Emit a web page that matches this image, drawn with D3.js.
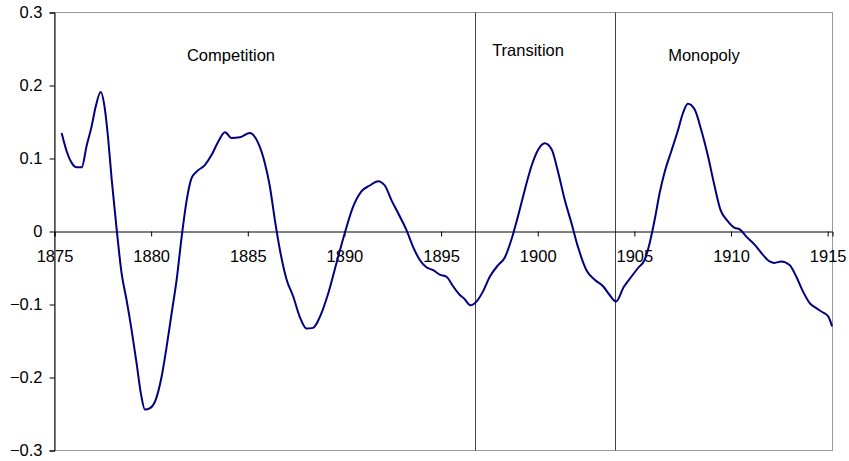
<!DOCTYPE html>
<html>
<head>
<meta charset="utf-8">
<script src="https://cdn.jsdelivr.net/npm/d3@7"></script>
<style>
  body { margin: 0; background: #fff; }
  text { font-family: "Liberation Sans", Arial, sans-serif; font-size: 16.5px; fill: #000; }
</style>
</head>
<body>
<svg></svg>
<script>
// series
const years = [1875.37, 1875.63, 1875.89, 1876.15, 1876.41, 1876.66, 1876.92, 1877.13, 1877.39, 1877.61,
  1877.78, 1877.96, 1878.22, 1878.47, 1878.73, 1878.99, 1879.25, 1879.47, 1879.68, 1879.94,
  1880.2, 1880.54, 1880.8, 1881.06, 1881.32, 1881.58, 1881.84, 1882.09, 1882.35, 1882.78,
  1883.13, 1883.47, 1883.82, 1884.16, 1884.59, 1885.11, 1885.54, 1885.88, 1886.14, 1886.4,
  1886.66, 1887.01, 1887.35, 1887.69, 1888.04, 1888.38, 1888.73, 1889.16, 1889.59, 1890.02,
  1890.45, 1890.88, 1891.31, 1891.74, 1892.09, 1892.43, 1892.78, 1893.21, 1893.55, 1893.9,
  1894.24, 1894.59, 1894.93, 1895.28, 1895.62, 1895.97, 1896.2, 1896.52, 1896.83, 1897.17,
  1897.52, 1897.95, 1898.29, 1898.64, 1898.98, 1899.33, 1899.67, 1900.02, 1900.36, 1900.71,
  1901.05, 1901.4, 1901.74, 1902.08, 1902.52, 1902.95, 1903.38, 1903.72, 1904.05, 1904.45,
  1904.84, 1905.19, 1905.53, 1905.79, 1906.05, 1906.31, 1906.57, 1906.91, 1907.26, 1907.51,
  1907.77, 1908.12, 1908.46, 1908.81, 1909.15, 1909.45, 1909.84, 1910.19, 1910.45, 1910.79,
  1911.22, 1911.65, 1912.0, 1912.25, 1912.6, 1913.03, 1913.38, 1913.72, 1914.07, 1914.41,
  1914.76, 1915.02, 1915.23];
const values = [0.135, 0.110, 0.094, 0.088, 0.088, 0.117, 0.144, 0.171, 0.191, 0.167,
  0.126, 0.071, 0.002, -0.057, -0.094, -0.135, -0.181, -0.222, -0.244, -0.242,
  -0.233, -0.199, -0.158, -0.112, -0.066, -0.007, 0.043, 0.073, 0.082, 0.091,
  0.105, 0.123, 0.136, 0.128, 0.129, 0.135, 0.121, 0.094, 0.062, 0.016,
  -0.025, -0.066, -0.089, -0.117, -0.133, -0.132, -0.117, -0.085, -0.043, -0.002,
  0.034, 0.055, 0.063, 0.069, 0.063, 0.043, 0.025, 0.002, -0.021, -0.039,
  -0.049, -0.053, -0.059, -0.062, -0.075, -0.087, -0.092, -0.101, -0.096, -0.082,
  -0.062, -0.046, -0.036, -0.011, 0.021, 0.057, 0.089, 0.112, 0.121, 0.113,
  0.082, 0.043, 0.012, -0.021, -0.053, -0.066, -0.075, -0.087, -0.096, -0.076,
  -0.062, -0.050, -0.039, -0.016, 0.016, 0.053, 0.082, 0.110, 0.139, 0.162,
  0.175, 0.167, 0.139, 0.103, 0.062, 0.030, 0.014, 0.005, 0.003, -0.007,
  -0.018, -0.032, -0.041, -0.043, -0.041, -0.046, -0.062, -0.082, -0.098, -0.105,
  -0.111, -0.116, -0.130];

const xTicks = [1875, 1880, 1885, 1890, 1895, 1900, 1905, 1910, 1915];
const yTicks = [-0.3, -0.2, -0.1, 0, 0.1, 0.2, 0.3];
const phaseBreaks = [1896.75, 1904.0];
const phaseNames = ["Competition", "Transition", "Monopoly"];

const width = 849, height = 461;
const svg = d3.select("svg").attr("width", width).attr("height", height);

const x = d3.scaleLinear().domain([1875, 1915.25]).range([54.5, 832.5]);
const y = d3.scaleLinear().domain([-0.3, 0.3]).range([450.5, 12.5]);

// plot frame
svg.append("rect")
    .attr("x", x(1875)).attr("y", y(0.3))
    .attr("width", x(1915.25) - x(1875)).attr("height", y(-0.3) - y(0.3))
    .attr("fill", "none").attr("stroke", "#999").attr("stroke-width", 1);

// phase separators
svg.selectAll(".phase")
    .data(phaseBreaks)
    .enter()
    .append("line")
    .attr("x1", d => Math.round(x(d)) + 0.5).attr("x2", d => Math.round(x(d)) + 0.5)
    .attr("y1", y(0.3)).attr("y2", y(-0.3))
    .attr("stroke", "#444").attr("stroke-width", 1);

// y axis
const yAxis = svg.append("g")
    .attr("transform", `translate(${x(1875)},0)`)
    .call(d3.axisLeft(y).tickValues(yTicks).tickSize(5).tickPadding(7)
        .tickFormat(d => d === 0 ? "0" : d3.format(".1f")(d)));
yAxis.select(".domain").attr("stroke", "#000");
yAxis.selectAll("text").style("font-size", "16.5px");

// x axis on zero line
const xAxis = svg.append("g")
    .attr("transform", `translate(0,${y(0)})`)
    .call(d3.axisBottom(x).tickValues(xTicks).tickSize(5).tickPadding(14).tickFormat(d3.format("d")));
xAxis.select(".domain").attr("stroke", "#000");
xAxis.selectAll("text").style("font-size", "16.5px");

// series line
const points = years.map((d, i) => [d, values[i]]);
svg.append("path")
    .datum(points)
    .attr("fill", "none")
    .attr("stroke", "#000080")
    .attr("stroke-width", 2)
    .attr("d", d3.line().x(d => x(d[0])).y(d => y(d[1])).curve(d3.curveMonotoneX));

// phase labels
const labelPos = [[1884.13, 0.242], [1899.5, 0.249], [1908.6, 0.242]];
svg.selectAll(".label")
    .data(phaseNames)
    .enter()
    .append("text")
    .attr("x", (d, i) => x(labelPos[i][0]))
    .attr("y", (d, i) => y(labelPos[i][1]))
    .attr("dy", "0.35em")
    .attr("text-anchor", "middle")
    .text(d => d);
</script>
</body>
</html>
